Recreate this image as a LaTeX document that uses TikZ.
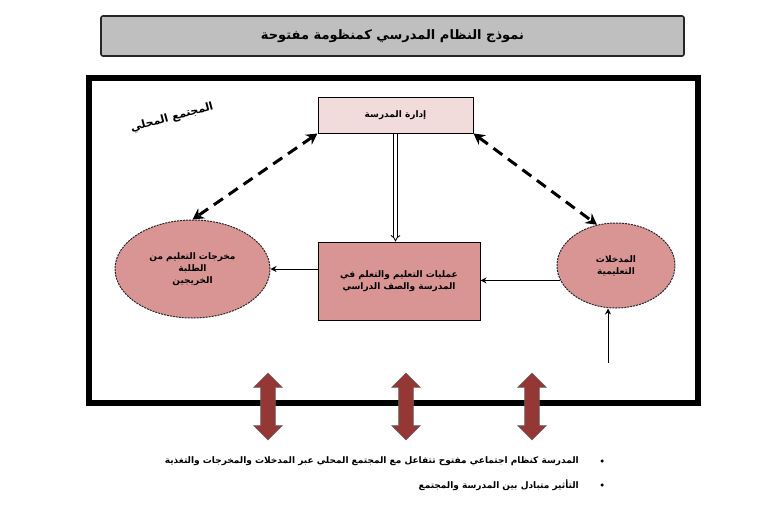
\documentclass[tikz,border=0pt]{standalone}
\usepackage{fontspec}
\newfontfamily\arabicfont[Script=Arabic]{DejaVu Sans}
\TeXXeTstate=1
\usetikzlibrary{arrows.meta,shapes.geometric,shapes.arrows}
\definecolor{titlegray}{HTML}{BFBFBF}
\definecolor{lightpink}{HTML}{F2DCDB}
\definecolor{rose}{HTML}{D99594}
\definecolor{darkred}{HTML}{953735}
\newcommand{\AR}[1]{\beginR #1\endR}
\begin{document}
\begin{tikzpicture}[x=1pt,y=-1pt,
  artext/.style={font=\arabicfont\bfseries\fontsize{9}{12}\selectfont, align=center},
  boxnode/.style={draw=black, line width=1pt, artext},
  ellnode/.style={ellipse, draw=black!85, line width=1pt, dash pattern=on 2pt off 1pt, fill=rose, artext, inner sep=0pt},
  dasharrow/.style={line width=3pt, dash pattern=on 11pt off 7pt, {Stealth[length=11pt,width=12pt]}-{Stealth[length=11pt,width=12pt]}},
  thinarrow/.style={line width=0.9pt, -{Stealth[length=6pt,width=6pt]}},
  blockarrow/.style={double arrow, shape border rotate=90, draw=black!60, line width=0.6pt, fill=darkred, minimum height=67pt, inner sep=7pt, double arrow head extend=7pt, double arrow tip angle=90},
  bulletdot/.style={circle, fill=black, inner sep=0pt, minimum size=3.5pt}
]
\useasboundingbox (0,0) rectangle (775,506);
% title
\node[draw=black!85, line width=1.6pt, rounded corners=2pt, fill=titlegray, minimum width=583pt, minimum height=40pt, artext, font=\arabicfont\bfseries\fontsize{13}{15}\selectfont] (title) at (392.5,36) {\AR{نموذج النظام المدرسي كمنظومة مفتوحة}};
% frame
\draw[line width=6pt] (89,78) rectangle (698,403);
% community label
\node[artext, rotate=15, font=\arabicfont\bfseries\fontsize{11}{13}\selectfont] (comm) at (172,118) {\AR{المجتمع المحلي}};
% boxes
\node[boxnode, fill=lightpink, minimum width=155pt, minimum height=36pt] (top) at (395.5,115) {\AR{إدارة المدرسة}};
\node[boxnode, fill=rose, minimum width=162pt, minimum height=78pt] (mid) at (399,281) {\AR{عمليات التعليم والتعلم في}\\\AR{المدرسة والصف الدراسي}};
% ellipses
\node[ellnode, minimum width=155pt, minimum height=98pt] (le) at (192.5,269) {\AR{مخرجات التعليم من}\\\AR{الطلبة}\\\AR{الخريجين}};
\node[ellnode, minimum width=118pt, minimum height=85pt] (re) at (616,265.5) {\AR{المدخلات}\\\AR{التعليمية}};
% connectors
\draw[double, double distance=2.5pt, line width=0.8pt, -{Implies}] (top.south) -- (top.south |- mid.north);
\draw[dasharrow] (top.south west) -- (le.north);
\draw[dasharrow] (top.south east) -- (re.115);
\draw[thinarrow] (mid.west |- le.east) -- (le.east);
\draw[thinarrow] (re.195) -- (mid.east |- re.195);
\coordinate (inb) at (608,363);
\draw[thinarrow] (inb) -- (inb |- re.south);
% block arrows
\node[blockarrow] (ba1) at (268,406.5) {};
\node[blockarrow] (ba2) at (406,406.5) {};
\node[blockarrow] (ba3) at (532,406.5) {};
% bullets
\node[bulletdot] (b1) at (602,461) {};
\node[bulletdot] (b2) at (602,485) {};
\node[artext, anchor=east, inner sep=0pt] (t1) at (579,461) {\AR{المدرسة كنظام اجتماعي مفتوح تتفاعل مع المجتمع المحلي عبر المدخلات والمخرجات والتغذية}};
\node[artext, anchor=east, inner sep=0pt] (t2) at (579,485) {\AR{التأثير متبادل بين المدرسة والمجتمع}};
\end{tikzpicture}
\end{document}
